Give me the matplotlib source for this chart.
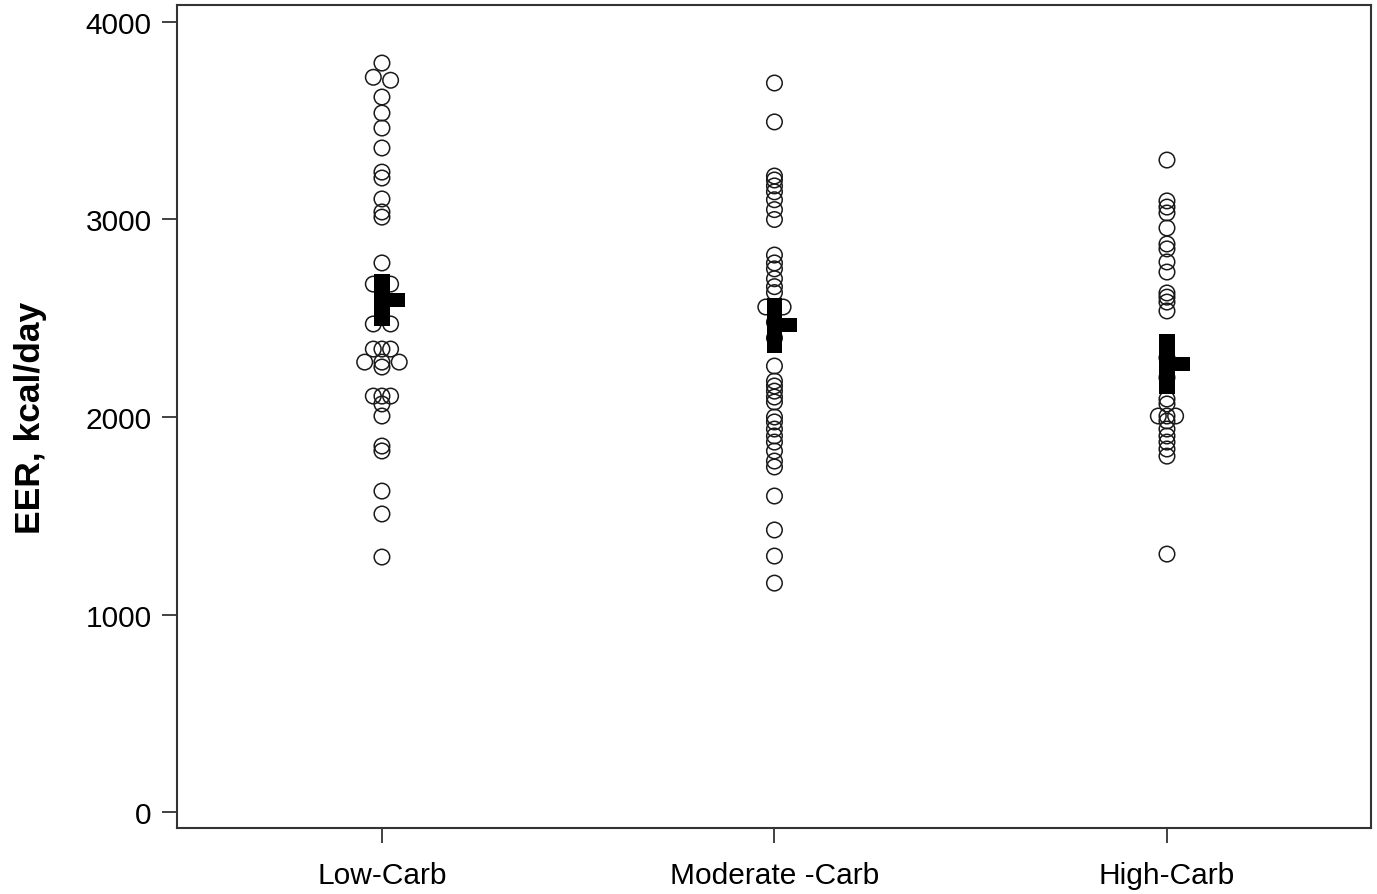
import numpy as np
import matplotlib
matplotlib.use("Agg")
import matplotlib.pyplot as plt

plt.rcParams['font.family'] = ['Liberation Sans', 'DejaVu Sans']

# grupos
grupos = ["Low-Carb", "Moderate -Carb", "High-Carb"]

# valores EER (kcal/day)
low_vals = [3792, 3720, 3705, 3620, 3539, 3463, 3362, 3240, 3210, 3104, 3038, 3012,
            2780, 2673, 2673, 2471, 2471, 2344, 2344, 2344, 2278, 2278, 2278, 2253,
            2106, 2106, 2106, 2066, 2005, 1853, 1828, 1625, 1509, 1291]
low_off = [0, -1, 1, 0, 0, 0, 0, 0, 0, 0, 0, 0,
           0, -1, 1, -1, 1, -1, 1, 0, -2, 2, 0, 0,
           -1, 1, 0, 0, 0, 0, 0, 0, 0, 0]

mod_vals = [3691, 3494, 3220, 3200, 3170, 3140, 3100, 3050, 3000,
            2820, 2780, 2750, 2700, 2660, 2630, 2557, 2557, 2480, 2400,
            2258, 2182, 2157, 2131, 2101, 2076,
            2000, 1975, 1939, 1904, 1873, 1828, 1777, 1747,
            1600, 1428, 1296, 1159]
mod_off = [0, 0, 0, 0, 0, 0, 0, 0, 0,
           0, 0, 0, 0, 0, 0, -1, 1, 0, 0,
           0, 0, 0, 0, 0, 0,
           0, 0, 0, 0, 0, 0, 0, 0,
           0, 0, 0, 0]

high_vals = [3301, 3094, 3063, 3033, 2957, 2876, 2851, 2785, 2734,
             2628, 2607, 2582, 2537, 2300, 2200, 2091, 2066,
             2005, 2005, 2005, 1980, 1939, 1904, 1873, 1838, 1802, 1306]
high_off = [0, 0, 0, 0, 0, 0, 0, 0, 0,
            0, 0, 0, 0, 0, 0, 0, 0,
            -1, 1, 0, 0, 0, 0, 0, 0, 0, 0]

# media y error (barra negra)
medias = [2592, 2465, 2268]
errores = [130, 139, 152]

valores = [low_vals, mod_vals, high_vals]
offsets = [low_off, mod_off, high_off]

fig = plt.figure(figsize=(13.77, 8.95), dpi=100)
ax = fig.add_axes([0.1283, 0.0737, 0.8674, 0.9196])

jit = 0.022   # separacion de puntos empatados
for i in range(3):
  x = i + 1 + np.array(offsets[i]) * jit
  ax.scatter(x, valores[i], s=125, facecolors='none', edgecolors='#1a1a1a',
             linewidths=1.1, zorder=2)
  # barra vertical (media +- error) y marca horizontal de la media
  ax.bar(i + 1, 2 * errores[i], bottom=medias[i] - errores[i], width=0.040,
         color='black', zorder=3)
  ax.barh(medias[i], 0.058, left=i + 1, height=70, color='black', zorder=3)

ax.set_xlim(0.477, 3.52)
ax.set_ylim(-81, 4086)
ax.set_xticks([1, 2, 3])
ax.set_xticklabels(grupos)
ax.set_yticks([0, 1000, 2000, 3000, 4000])

for s in ax.spines.values():
  s.set_linewidth(1.5)
  s.set_color('#333333')

ax.tick_params(axis='both', length=11, width=1.3, color='#333333', labelsize=21.5)
ax.tick_params(axis='x', pad=13)
ax.tick_params(axis='y', pad=7)

ax.set_ylabel("EER, kcal/day", fontsize=25.5, fontweight='bold', labelpad=28)

fig.savefig("out.png", dpi=100)
